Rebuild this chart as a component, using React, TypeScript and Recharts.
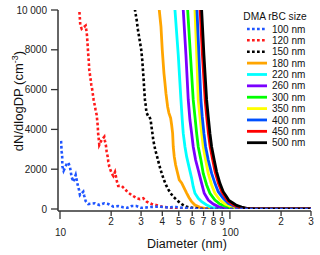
import { Legend, Line, LineChart, XAxis, YAxis } from "recharts";

// [diameter nm, dN/dlogDP]
const s100: [number, number][] = [
  [10.14, 3420], [10.23, 2880], [10.3, 2630], [10.32, 2160], [10.5, 1920],
  [10.95, 2260], [11.2, 2330], [11.45, 2100], [11.7, 1620], [11.97, 1370],
  [12.37, 1710], [12.54, 1460], [12.71, 1210], [12.94, 960], [13.11, 700],
  [13.71, 870], [13.9, 650], [14.16, 400], [14.67, 250], [16.06, 290],
  [17.03, 200], [18.2, 290], [19.23, 250], [20.6, 120], [22.0, 150],
  [23.5, 85], [24.7, 50], [26.4, 150], [28.2, 150], [30.2, 50],
  [34, 100], [38, 120], [43, 80], [48, 100], [53, 60], [58, 40],
  [65, 0], [300, 0],
];
const s120: [number, number][] = [
  [12.9, 10400], [12.99, 10000], [13.11, 9500], [13.16, 9250], [13.42, 9050],
  [14.16, 9210], [14.28, 9000], [14.41, 8740], [14.54, 8240], [14.67, 7740],
  [14.75, 7490], [14.87, 6990], [15.16, 6480], [15.29, 6230], [15.49, 5980],
  [15.63, 5730], [15.78, 5480], [16.0, 5230], [16.2, 4980], [16.44, 4720],
  [16.66, 4220], [16.79, 3720], [16.96, 3420], [17.03, 3220], [17.59, 3470],
  [18.22, 3630], [18.39, 3420], [18.65, 3170], [18.82, 2880], [19.08, 2630],
  [19.24, 2380], [19.5, 2130], [20.14, 1790], [20.59, 1660], [21.07, 1860],
  [21.35, 1620], [21.64, 1370], [22.0, 1160], [23.07, 1160], [24.13, 990],
  [25.22, 820], [26.4, 700], [28.26, 540], [29.55, 500], [30.9, 540],
  [32.36, 370], [34.63, 250], [37.07, 190], [39.65, 120], [42.44, 85],
  [45.4, 35], [48.6, 15], [52, 0], [300, 0],
];
const s150: [number, number][] = [
  [27.3, 10300], [27.62, 10000], [28.26, 9500], [28.76, 9000], [29.42, 8490],
  [30.07, 7990], [30.48, 7490], [30.77, 6990], [31.07, 6480], [31.32, 5980],
  [31.62, 5480], [31.92, 5230], [32.27, 4850], [32.93, 4690], [33.52, 4670],
  [34.16, 4470], [34.44, 4220], [34.77, 3970], [35.1, 3720], [35.38, 3470],
  [35.87, 3220], [36.36, 2970], [37.07, 2710], [37.73, 2460], [38.39, 2210],
  [39.13, 1960], [39.98, 1710], [40.91, 1460], [42.03, 1210], [43.36, 990],
  [44.79, 790], [46.4, 620], [48.13, 490], [49.92, 370], [51.98, 250],
  [54.37, 150], [56.86, 85], [59.78, 65], [63.96, 35], [70, 0], [300, 0],
];
const s180: [number, number][] = [
  [38.0, 10300], [38.39, 10000], [39.28, 9160], [39.98, 7990], [40.91, 6820],
  [41.47, 6320], [42.03, 5810], [43.0, 5140], [43.77, 4820], [44.79, 4570],
  [45.4, 4220], [46.01, 3800], [46.4, 3130], [47.03, 2630], [47.92, 2210],
  [48.98, 1870], [50.32, 1460], [51.98, 1310], [53.62, 1080], [55.63, 800],
  [57.39, 580], [59.53, 370], [62.26, 200], [66.6, 85], [71.3, 35],
  [78.4, 0], [300, 0],
];
const s220: [number, number][] = [
  [47.15, 10300], [47.48, 10000], [49.65, 7740], [51.5, 5480], [52.42, 4470],
  [53.13, 3800], [54.37, 3130], [55.63, 2630], [57.39, 2130], [59.53, 1540],
  [60.82, 1120], [62.26, 790], [65.1, 540], [68.17, 370], [72.94, 200],
  [78.05, 85], [85.0, 25], [93.5, 0], [300, 0],
];
const s260: [number, number][] = [
  [52.8, 10300], [53.13, 10000], [55.11, 7740], [56.86, 5480], [58.17, 4470],
  [59.53, 3800], [60.82, 3130], [62.83, 2460], [65.1, 1960], [68.17, 1290],
  [70.6, 790], [74.54, 450], [79.76, 250], [85.36, 120], [93.5, 35],
  [102.7, 0], [300, 0],
];
const s300: [number, number][] = [
  [56.0, 10300], [56.4, 10000], [58.56, 7740], [60.82, 5480], [62.26, 4640],
  [63.7, 3800], [65.1, 3130], [67.5, 2460], [69.65, 1790], [72.94, 1210],
  [76.28, 790], [81.62, 450], [87.35, 250], [94.7, 130], [102.7, 35],
  [111.4, 0], [300, 0],
];
const s350: [number, number][] = [
  [61.8, 10300], [62.26, 10000], [63.78, 7740], [65.1, 5480], [66.6, 4640],
  [68.17, 3800], [69.65, 3130], [71.95, 2460], [74.54, 1790], [78.05, 1210],
  [81.62, 790], [87.35, 450], [93.5, 250], [101.4, 130], [111.4, 35],
  [122.5, 0], [300, 0],
];
const s400: [number, number][] = [
  [63.5, 10300], [63.96, 10000], [65.72, 7740], [67.5, 5480], [68.71, 4640],
  [70.32, 3800], [71.95, 3130], [74.54, 2460], [78.05, 1790], [81.62, 1290],
  [85.36, 870], [91.33, 540], [97.7, 290], [105.6, 150], [114.5, 60],
  [127.6, 0], [300, 0],
];
const s450: [number, number][] = [
  [66.3, 10300], [66.8, 10000], [68.9, 7740], [71.5, 5480], [73.0, 4640],
  [74.7, 3800], [76.5, 3130], [79.2, 2460], [81.8, 1870], [85.6, 1290],
  [89.5, 870], [93.7, 600], [97.0, 420], [102, 280], [107, 160],
  [115, 80], [123, 30], [135, 0], [300, 0],
];
const s500: [number, number][] = [
  [67.7, 10300], [68.17, 10000], [70.32, 7740], [72.94, 5480], [74.54, 4640],
  [76.28, 3800], [78.05, 3130], [80.83, 2460], [83.52, 1870], [87.35, 1290],
  [91.33, 870], [95.6, 620], [98.65, 430], [104.1, 300], [109.5, 180],
  [117.2, 100], [125.9, 35], [140.3, 0], [300, 0],
];

const xTicks = [10, 20, 30, 40, 50, 60, 70, 80, 90, 100, 200, 300];
const yTicks = [0, 2000, 4000, 6000, 8000, 10000];

const series = [
  { name: "100 nm", data: s100, color: "#1f55ff", dotted: true },
  { name: "120 nm", data: s120, color: "#ff1a1a", dotted: true },
  { name: "150 nm", data: s150, color: "#000000", dotted: true },
  { name: "180 nm", data: s180, color: "#ffa500", dotted: false },
  { name: "220 nm", data: s220, color: "#00ffff", dotted: false },
  { name: "260 nm", data: s260, color: "#7a00ff", dotted: false },
  { name: "300 nm", data: s300, color: "#00ff00", dotted: false },
  { name: "350 nm", data: s350, color: "#ffff00", dotted: false },
  { name: "400 nm", data: s400, color: "#0050ff", dotted: false },
  { name: "450 nm", data: s450, color: "#ff0000", dotted: false },
  { name: "500 nm", data: s500, color: "#000000", dotted: false },
];

// solid lines first, dotted ones on top
const drawOrder = [3, 4, 5, 6, 7, 8, 9, 10, 2, 1, 0];

const axisColor = "#333";
const DASH = "2.7 2.3";

const XTick = ({ x, y, payload }: any) => {
  const v = payload.value;
  const major = v === 10 || v === 100;
  const label = major ? String(v) : String(v).charAt(0);
  return (
    <g>
      <line x1={x} x2={x} y1={y} y2={y + (major ? 8 : 5)} stroke={axisColor} strokeWidth={1.3} />
      <text
        x={major ? x + 0.5 : x}
        y={y + (major ? 24.5 : 14)}
        textAnchor="middle"
        fontSize={10}
        fill="#222"
      >
        {label}
      </text>
    </g>
  );
};

const LegendBox = () => (
  <svg width={80} height={150} style={{ display: "block" }}>
    <text x={35} y={20.3} textAnchor="middle" fontSize={10.2} fill="#111">
      DMA rBC size
    </text>
    {series.map((s, i) => {
      const cy = 29 + 11.37 * i;
      return (
        <g key={s.name}>
          <line
            x1={7}
            x2={27}
            y1={cy}
            y2={cy}
            stroke={s.color}
            strokeWidth={s.dotted ? 2.5 : 2.8}
            strokeDasharray={s.dotted ? DASH : undefined}
          />
          <text x={32} y={cy + 3.6} fontSize={10} fill="#111">
            {s.name}
          </text>
        </g>
      );
    })}
  </svg>
);

export default function App() {
  return (
    <div
      style={{
        position: "absolute",
        left: 0,
        top: 0,
        fontFamily: "'Liberation Sans', Arial, Helvetica, sans-serif",
      }}
    >
      <LineChart width={320} height={255} margin={{ top: 10, right: 9, bottom: 0, left: 0 }}>
        <XAxis
          dataKey="x"
          type="number"
          scale="log"
          domain={[10, 300]}
          allowDataOverflow
          ticks={xTicks}
          interval={0}
          padding={{ left: 2, right: 0 }}
          height={44}
          tickSize={0}
          tickMargin={0}
          tickLine={false}
          tick={<XTick />}
          axisLine={{ stroke: axisColor, strokeWidth: 1.5 }}
          label={{
            content: () => (
              <text x={187} y={247.5} textAnchor="middle" fontSize={12.5} fill="#111">
                Diameter (nm)
              </text>
            ),
          }}
        />
        <YAxis
          type="number"
          domain={[0, 10000]}
          allowDataOverflow
          ticks={yTicks}
          interval={0}
          width={58}
          padding={{ top: 0, bottom: 2 }}
          tickSize={7}
          tickMargin={4}
          tick={{ fontSize: 10, fill: "#222" }}
          tickLine={{ stroke: axisColor, strokeWidth: 1.3 }}
          axisLine={{ stroke: axisColor, strokeWidth: 1.5 }}
          tickFormatter={(v: number) => (v === 10000 ? "10 000" : String(v))}
          label={{
            content: () => (
              <text
                x={18}
                y={101}
                dy="0.36em"
                transform="rotate(-90 18 101)"
                textAnchor="middle"
                fontSize={13}
                fill="#111"
              >
                dN/dlogDP (cm
                <tspan dy={-5} fontSize={9}>
                  -3
                </tspan>
                <tspan dy={5}>)</tspan>
              </text>
            ),
          }}
        />
        <Legend
          layout="horizontal"
          verticalAlign="middle"
          align="center"
          wrapperStyle={{ left: 240, top: 0, width: 80, height: 150 }}
          content={() => <LegendBox />}
        />
        {drawOrder.map((i) => {
          const s = series[i];
          return (
            <Line
              key={s.name}
              name={s.name}
              data={s.data.map(([x, y]) => ({ x, y }))}
              dataKey="y"
              type="linear"
              stroke={s.color}
              strokeWidth={s.dotted ? 2.6 : 2.8}
              strokeDasharray={s.dotted ? DASH : undefined}
              dot={false}
              activeDot={false}
              isAnimationActive={false}
            />
          );
        })}
      </LineChart>
    </div>
  );
}
